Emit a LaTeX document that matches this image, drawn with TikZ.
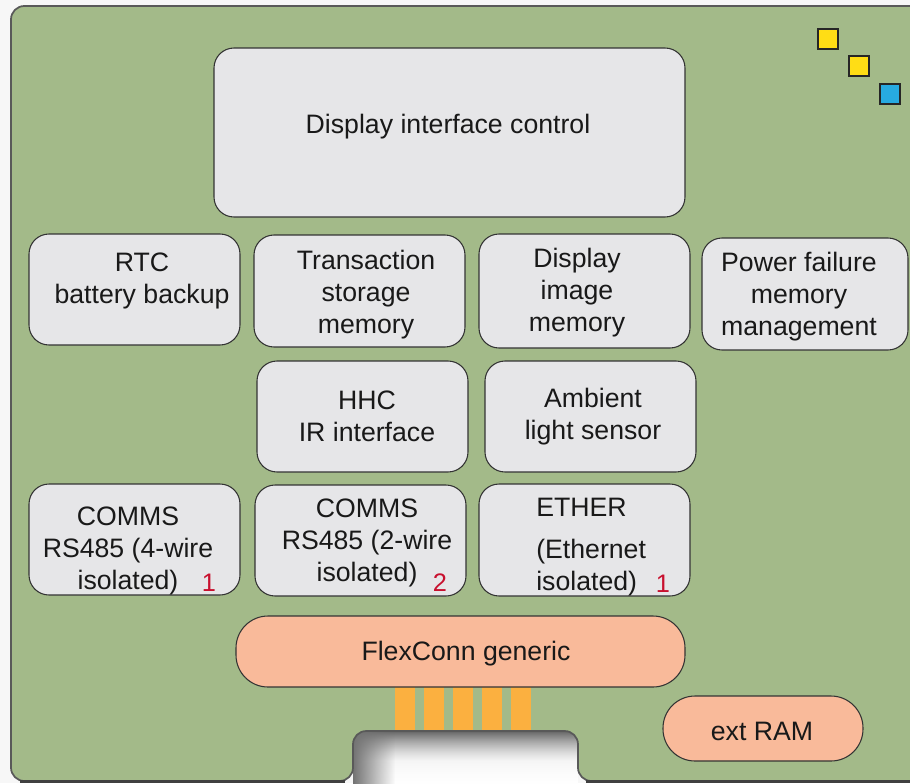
\documentclass[tikz,border=0pt]{standalone}
\usepackage{fontspec}
\usetikzlibrary{fadings}
\setmainfont{Liberation Sans}
\definecolor{board}{HTML}{A3BA89}
\definecolor{boxgrey}{HTML}{E6E6E8}
\definecolor{salmon}{HTML}{F9BA9A}
\definecolor{pin}{HTML}{FBB040}
\definecolor{sqyellow}{HTML}{FFDD15}
\definecolor{sqblue}{HTML}{27AAE1}
\definecolor{numred}{HTML}{C8102E}
\definecolor{edge}{HTML}{333333}
\tikzset{
  blk/.style={draw=edge, line width=0.8pt, fill=boxgrey, rounded corners=15pt, inner sep=0pt, minimum height=83.25pt, minimum width=158.25pt},
  pill/.style={draw=edge, line width=0.8pt, fill=salmon, inner sep=0pt},
  txt/.style={font=\fontsize{20}{24}\selectfont, text=black!90, align=center, inner sep=0pt},
  num/.style={font=\fontsize{19}{22}\selectfont, text=numred, inner sep=0pt},
  sq/.style={draw=black!85, line width=0.9pt, minimum size=15pt, inner sep=0pt},
  pinbar/.style={fill=pin, draw=none}
}
\begin{document}
\begin{tikzpicture}[x=0.75pt,y=-0.75pt]
\useasboundingbox (0,0) rectangle (910,783);
\fill[black!3] (0,0) rectangle (910,783);
\begin{scope}
\clip (0,0) rectangle (910,783);
% cutout shadow
\fill[white] (353,731) rectangle (578,790);
\shade[top color=black!60, bottom color=white, middle color=black!8, path fading=south] (353,731) rectangle (578,790);
\fill[black!55, path fading=east] (353,731) rectangle (395,790);
% board
\draw[draw=black!65, line width=1.3pt, fill=board, rounded corners=10]
  (353,781) -- (11,781) -- (11,6) -- (930,6) -- (930,781) -- (578,781)
  -- (578,731) -- (353,731) -- cycle;
\draw[black!75, line width=2.5pt] (20,781.5) -- (345,781.5);
\draw[black!75, line width=2.5pt] (586,781.5) -- (910,781.5);
\end{scope}
% pins
\foreach \px [count=\i] in {395,424,453,482,511} {
  \fill[pinbar] (\px,687) rectangle ++(20,43);
}
% squares
\node[sq, fill=sqyellow] (s1) at (828,39) {};
\node[sq, fill=sqyellow] (s2) at (859,66) {};
\node[sq, fill=sqblue] (s3) at (890,94) {};
% boxes
\node[blk, minimum width=353.25pt, minimum height=126.75pt] (dic) at (449.5,132.5) {};
\node[blk] (rtc) at (134.5,289.5) {};
\node[blk, minimum height=84pt] (tsm) at (359.5,291) {};
\node[blk, minimum height=85.5pt] (dim) at (584.5,291) {};
\node[blk, minimum width=154.5pt, minimum height=84pt] (pfm) at (805,294) {};
\node[blk] (hhc) at (362.5,416.5) {};
\node[blk] (als) at (590.5,416.5) {};
\node[blk] (c4) at (134.5,539.5) {};
\node[blk] (c2) at (360.5,540.5) {};
\node[blk, minimum height=84pt] (eth) at (584.5,540) {};
\node[pill, rounded corners=24pt, minimum width=336.75pt, minimum height=53.25pt] (flex) at (460.5,651.5) {};
\node[pill, rounded corners=24pt, minimum width=150pt, minimum height=48.75pt] (ram) at (763,728.5) {};
% texts
\node[txt] (tdic) at (448,127) {Display interface control};
\node[txt] (trtc) at (142,281) {RTC\\battery backup};
\node[txt] (ttsm) at (366,295) {Transaction\\storage\\memory};
\node[txt] (tdim) at (577,293) {Display\\image\\memory};
\node[txt] (tpfm) at (799,297) {Power failure\\memory\\management};
\node[txt] (thhc) at (367,416) {HHC\\IR interface};
\node[txt] (tals) at (593,417) {Ambient\\light sensor};
\node[txt] (tc4) at (128,551) {COMMS\\RS485 (4-wire\\isolated)};
\node[txt] (tc2) at (367,543) {COMMS\\RS485 (2-wire\\isolated)};
\node[txt, align=left, anchor=west] (teth) at (536,547) {ETHER\\[7pt](Ethernet\\isolated)};
\node[num] (n1) at (209,583) {1};
\node[num] (n2) at (440,583) {2};
\node[num] (n3) at (663,584) {1};
\node[txt] (tflex) at (466,654) {FlexConn generic};
\node[txt] (tram) at (762,731) {ext RAM};
\end{tikzpicture}
\end{document}
